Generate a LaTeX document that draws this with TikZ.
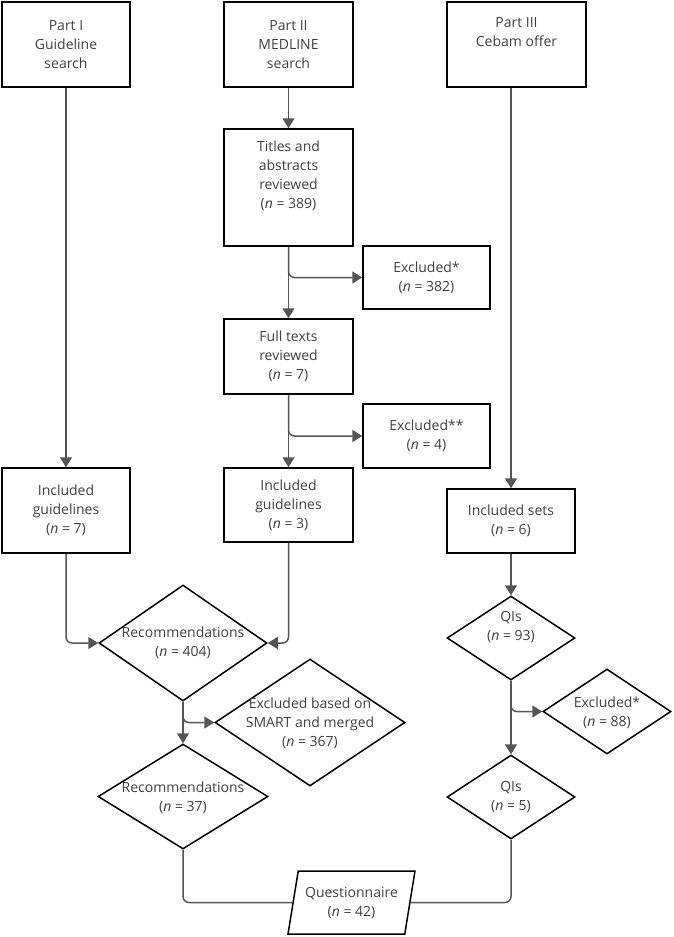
\documentclass[tikz,border=0pt]{standalone}
\usepackage{fontspec}
\setmainfont{Open Sans}
\usetikzlibrary{shapes.geometric,arrows.meta}
\definecolor{txtc}{HTML}{404040}
\definecolor{linec}{HTML}{555555}
\begin{document}
\begin{tikzpicture}[x=1pt,y=-1pt,
  lbl/.style={text=txtc,align=center,font=\fontsize{14}{19}\selectfont,inner sep=0pt},
  box/.style={lbl,draw=black,line width=1.5pt,fill=white,rectangle},
  dia/.style={draw=black,line width=1.5pt,fill=white,diamond,inner sep=0pt},
  arr/.style={draw=linec,line width=1.5pt,-{Triangle[width=12pt,length=10pt]},rounded corners=6pt},
  con/.style={draw=linec,line width=1.5pt,rounded corners=6pt}]
\useasboundingbox (0,0) rectangle (673,937);

% top boxes
\node[box,minimum width=128,minimum height=85] (p1) at (66,44.5) {Part I\\Guideline\\search};
\node[box,minimum width=129,minimum height=85] (p2) at (288.5,44.5) {Part II\\MEDLINE\\search};
\node[box,minimum width=139,minimum height=85] (p3) at (516.5,44.5) {Part III\\Cebam offer\\\strut};

% middle column
\node[box,minimum width=129,minimum height=117] (titles) at (288.5,187.5) {Titles and\\abstracts\\reviewed\\(\textit{n} = 389)\\\strut};
\node[box,minimum width=127,minimum height=63] (ex1) at (426.5,277.5) {Excluded*\\(\textit{n} = 382)};
\node[box,minimum width=129,minimum height=75] (full) at (288.5,356.5) {Full texts\\reviewed\\(\textit{n} = 7)};
\node[box,minimum width=127,minimum height=64] (ex2) at (426.5,436) {Excluded**\\(\textit{n} = 4)};
\node[box,minimum width=129,minimum height=74] (inc2) at (288.5,505) {Included\\guidelines\\(\textit{n} = 3)};

% left column
\node[box,minimum width=128,minimum height=85] (inc1) at (66,510.5) {Included\\guidelines\\(\textit{n} = 7)};

% right column
\node[box,minimum width=128,minimum height=64] (incs) at (511,521) {Included sets\\(\textit{n} = 6)};

% diamonds
\node[dia,minimum width=168,minimum height=116] (rec) at (183,643) {};
\node[lbl] (rect) at (183,643) {Recommendations\\(\textit{n} = 404)};
\node[dia,minimum width=190,minimum height=127] (smart) at (310,722.5) {};
\node[lbl] (smartt) at (310,723) {Excluded based on\\SMART and merged\\(\textit{n} = 367)};
\node[dia,minimum width=170,minimum height=105] (rec37) at (183,796.5) {};
\node[lbl] (rec37t) at (183,797.5) {Recommendations\\(\textit{n} = 37)};
\node[dia,minimum width=128,minimum height=84] (qi93) at (511,638) {};
\node[lbl] (qi93t) at (511,627) {QIs\\(\textit{n} = 93)};
\node[dia,minimum width=128,minimum height=85] (ex3) at (607,711.5) {};
\node[lbl] (ex3t) at (607,712.5) {Excluded*\\(\textit{n} = 88)};
\node[dia,minimum width=128,minimum height=84] (qi5) at (511,797) {};
\node[lbl] (qi5t) at (511,797.5) {QIs\\(\textit{n} = 5)};

% questionnaire
\node[lbl,draw=black,line width=1.5pt,fill=white,trapezium,trapezium left angle=72,trapezium right angle=108,
  trapezium stretches body=true,minimum width=127,minimum height=63] (q) at (351.5,902.5) {Questionnaire\\(\textit{n} = 42)};

% connectors
\draw[arr] (p1) -- (inc1);
\draw[arr] (p2) -- (titles);
\draw[arr] (p3.south -| incs.north) -- (incs.north);
\draw[arr] (titles) -- (full);
\draw[arr] (titles.south) |- (ex1.west);
\draw[arr] (full) -- (inc2);
\draw[arr] (full.south) |- (ex2.west);
\draw[arr] (inc1.south) |- (rec.west);
\draw[arr] (inc2.south) |- (rec.east);
\draw[arr] (rec.south) -- (rec37.north);
\draw[arr] (rec.south) |- (smart.west);
\draw[arr] (incs) -- (qi93.north);
\draw[arr] (qi93.south) -- (qi5.north);
\draw[arr] (qi93.south) |- (ex3.west);
\draw[con] (rec37.south) |- (q.west);
\draw[con] (qi5.south) |- (q.east);
\end{tikzpicture}
\end{document}
